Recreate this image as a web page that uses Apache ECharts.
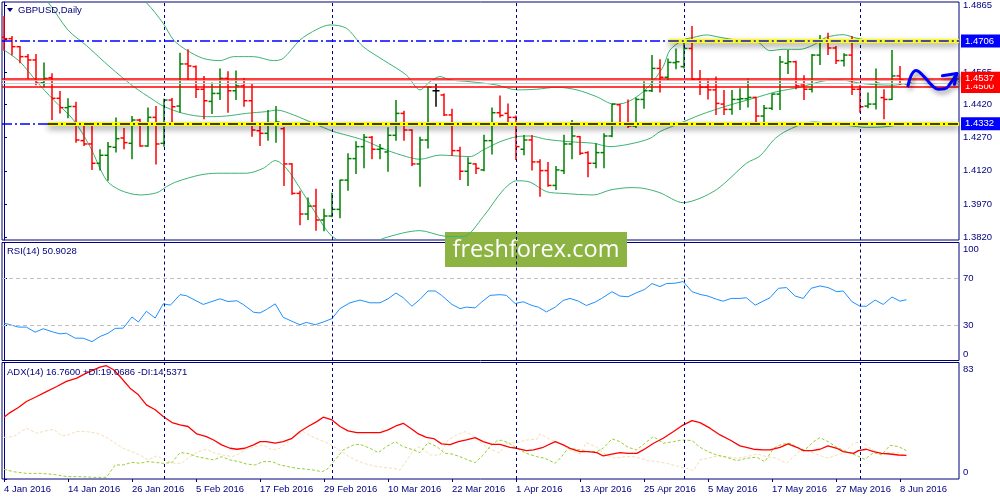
<!DOCTYPE html>
<html><head><meta charset="utf-8">
<script src="https://cdn.jsdelivr.net/npm/echarts/dist/echarts.min.js"></script>
<style>html,body{margin:0;padding:0;background:#fff}#c{width:1000px;height:500px}</style>
</head><body><div id="c"></div>
<script>
// ---------- DATA ----------
const dateLabelIdx = [0,8,16,24,32,40,48,56,64,72,80,88,96,104,112];
const dateLabels = ['4 Jan 2016','14 Jan 2016','26 Jan 2016','5 Feb 2016','17 Feb 2016','29 Feb 2016','10 Mar 2016','22 Mar 2016','1 Apr 2016','13 Apr 2016','25 Apr 2016','5 May 2016','17 May 2016','27 May 2016','8 Jun 2016'];
const monthStarts = [20,41,64,85,107];
const priceTicks = [1.3820,1.3970,1.4120,1.4270,1.4420,1.4565,1.4715,1.4865];
const rsiTicks = [0,30,70,100];
const adxTicks = [0,83];

const opens = [
1.4722,1.4716,1.4680,1.4635,1.4620,1.4517,1.4540,1.4447,1.4405,1.4410,
1.4256,1.4241,1.4154,1.4190,1.4226,1.4268,1.4244,1.4349,1.4232,1.4361,
1.4244,1.4439,1.4412,1.4602,1.4590,1.4488,1.4433,1.4469,1.4537,1.4481,
1.4503,1.4436,1.4301,1.4289,1.4337,1.4310,1.4151,1.4018,1.3925,1.3961,
1.3898,1.3916,1.3946,1.4078,1.4175,1.4229,1.4271,1.4217,1.4205,1.4280,
1.4379,1.4304,1.4151,1.4259,1.4481,1.4462,1.4372,1.4211,1.4118,1.4151,
1.4124,1.4256,1.4382,1.4379,1.4361,1.4217,1.4259,1.4160,1.4121,1.4054,
1.4121,1.4241,1.4274,1.4202,1.4154,1.4202,1.4277,1.4418,1.4331,1.4322,
1.4442,1.4481,1.4582,1.4542,1.4608,1.4590,1.4672,1.4533,1.4497,1.4485,
1.4421,1.4397,1.4442,1.4445,1.4451,1.4367,1.4402,1.4466,1.4605,1.4612,
1.4507,1.4488,1.4642,1.4703,1.4674,1.4617,1.4642,1.4488,1.4412,1.4421,
1.4450,1.4442,1.4548,1.4512];
const highs = [
1.4818,1.4728,1.4683,1.4647,1.4647,1.4608,1.4560,1.4480,1.4447,1.4432,
1.4322,1.4337,1.4217,1.4250,1.4361,1.4313,1.4367,1.4355,1.4406,1.4412,
1.4445,1.4448,1.4653,1.4668,1.4595,1.4548,1.4518,1.4581,1.4569,1.4572,
1.4539,1.4515,1.4340,1.4394,1.4412,1.4318,1.4154,1.4030,1.4000,1.4039,
1.3949,1.4021,1.4080,1.4199,1.4253,1.4286,1.4277,1.4241,1.4316,1.4439,
1.4391,1.4307,1.4274,1.4503,1.4515,1.4469,1.4400,1.4229,1.4181,1.4154,
1.4283,1.4406,1.4460,1.4424,1.4370,1.4282,1.4282,1.4172,1.4160,1.4142,
1.4283,1.4349,1.4277,1.4208,1.4244,1.4289,1.4424,1.4421,1.4442,1.4451,
1.4524,1.4642,1.4623,1.4627,1.4672,1.4713,1.4773,1.4575,1.4533,1.4545,
1.4485,1.4485,1.4492,1.4536,1.4454,1.4417,1.4469,1.4638,1.4665,1.4617,
1.4551,1.4647,1.4733,1.4743,1.4683,1.4650,1.4728,1.4507,1.4473,1.4582,
1.4488,1.4665,1.4593,1.4518];
const lows = [
1.4662,1.4641,1.4605,1.4533,1.4506,1.4497,1.4349,1.4379,1.4357,1.4247,
1.4232,1.4124,1.4121,1.4075,1.4202,1.4217,1.4172,1.4229,1.4229,1.4148,
1.4229,1.4322,1.4382,1.4527,1.4448,1.4352,1.4376,1.4439,1.4382,1.4439,
1.4409,1.4274,1.4232,1.4256,1.4247,1.4051,1.4012,1.3874,1.3898,1.3850,
1.3847,1.3910,1.3906,1.4030,1.4106,1.4131,1.4172,1.4172,1.4116,1.4256,
1.4256,1.4142,1.4048,1.4221,1.4409,1.4367,1.4187,1.4078,1.4051,1.4106,
1.4118,1.4193,1.4361,1.4322,1.4169,1.4190,1.4121,1.4003,1.4048,1.4033,
1.4106,1.4172,1.4191,1.4091,1.4131,1.4131,1.4271,1.4329,1.4313,1.4313,
1.4400,1.4476,1.4473,1.4527,1.4578,1.4581,1.4527,1.4462,1.4442,1.4372,
1.4372,1.4373,1.4394,1.4406,1.4334,1.4331,1.4394,1.4394,1.4557,1.4488,
1.4439,1.4473,1.4597,1.4642,1.4602,1.4590,1.4462,1.4382,1.4402,1.4397,
1.4352,1.4439,1.4507,1.4506];
const closes = [
1.4716,1.4680,1.4635,1.4620,1.4515,1.4537,1.4447,1.4405,1.4410,1.4259,
1.4241,1.4154,1.4190,1.4229,1.4265,1.4247,1.4349,1.4232,1.4361,1.4241,
1.4439,1.4409,1.4602,1.4593,1.4488,1.4436,1.4469,1.4537,1.4481,1.4503,
1.4436,1.4304,1.4289,1.4337,1.4340,1.4151,1.4018,1.3925,1.3961,1.3898,
1.3916,1.3946,1.4078,1.4175,1.4229,1.4271,1.4217,1.4220,1.4280,1.4379,
1.4304,1.4151,1.4259,1.4497,1.4481,1.4372,1.4211,1.4118,1.4154,1.4131,
1.4256,1.4382,1.4370,1.4361,1.4229,1.4259,1.4160,1.4121,1.4054,1.4124,
1.4241,1.4277,1.4199,1.4154,1.4202,1.4277,1.4421,1.4331,1.4322,1.4442,
1.4481,1.4582,1.4542,1.4609,1.4612,1.4672,1.4533,1.4497,1.4485,1.4424,
1.4397,1.4442,1.4445,1.4451,1.4367,1.4402,1.4466,1.4611,1.4612,1.4503,
1.4488,1.4642,1.4703,1.4674,1.4617,1.4642,1.4488,1.4409,1.4421,1.4515,
1.4442,1.4548,1.4530,1.4516];

// Bollinger band traces [barIndex, price]
const upperBand = [[16.5,1.4905],[17.8,1.4878],[19.9,1.4785],[21.2,1.4710],[22.8,1.4665],[24.9,1.4627],[27,1.4617],[28.7,1.4635],[31.2,1.4635],[33.7,1.4617],[34.9,1.4627],[37,1.4710],[39.1,1.4758],[40.75,1.4778],[42.8,1.4763],[44.9,1.4680],[47.4,1.4620],[50.3,1.4552],[52,1.4485],[53.25,1.4522],[54.5,1.4545],[55.75,1.4530],[58.25,1.4522],[61.6,1.4507],[64.1,1.4485],[66.6,1.4488],[69.1,1.4497],[71.6,1.4485],[74.1,1.4454],[76.2,1.4421],[77.4,1.4424],[79.1,1.4454],[80.75,1.4507],[82.4,1.4590],[83.25,1.4665],[84.9,1.4710],[86.2,1.4722],[87.8,1.4733],[89.5,1.4722],[91.6,1.4710],[94.1,1.4703],[95.75,1.4662],[97.4,1.4668],[99.5,1.4668],[101.2,1.4688],[102.8,1.4722],[104.9,1.4734],[106.6,1.4718],[108.7,1.4707],[112.8,1.4707]];
const middleBand = [[4,1.4920],[5.3,1.4890],[8.0,1.4755],[10.3,1.4685],[13.25,1.4588],[16.2,1.4500],[18.7,1.4439],[19.9,1.4412],[22.4,1.4379],[25.3,1.4364],[27.8,1.4367],[30.3,1.4379],[32.8,1.4387],[34.1,1.4394],[36.2,1.4372],[38.7,1.4334],[41.2,1.4297],[42.8,1.4281],[44.9,1.4259],[47.8,1.4214],[50.3,1.4184],[52,1.4172],[54.5,1.4191],[58.25,1.4184],[59.9,1.4214],[62,1.4251],[64.1,1.4274],[65.75,1.4277],[67.8,1.4262],[70.75,1.4251],[73.7,1.4244],[75.75,1.4229],[78.25,1.4241],[80.75,1.4266],[82,1.4297],[84.5,1.4334],[87,1.4372],[90.3,1.4412],[93.7,1.4447],[96.6,1.4477],[99.5,1.4497],[102,1.4522],[103.7,1.4530],[105.3,1.4527],[107,1.4515],[108.7,1.4509],[111.2,1.4506],[112.8,1.4515]];
const lowerBand = [[0,1.4665],[2,1.4612],[4.1,1.4522],[6.2,1.4439],[8.7,1.4349],[10.75,1.4229],[12.8,1.4078],[14.5,1.4033],[17,1.4011],[19.1,1.4021],[20.3,1.4048],[21.6,1.4071],[24.5,1.4101],[26.6,1.4109],[30.3,1.4109],[32.4,1.4131],[33.9,1.4166],[35.3,1.4131],[37,1.4041],[38.7,1.3943],[40.3,1.3853],[41.2,1.3820],[43.5,1.3775],[45.5,1.3780],[47.4,1.3815],[52,1.3850],[54.9,1.3826],[57.4,1.3823],[59.9,1.3913],[62.4,1.4033],[64.1,1.4075],[65.75,1.4069],[67.8,1.4026],[69.9,1.4018],[73.7,1.4011],[75.75,1.4033],[78.25,1.4044],[79.9,1.4041],[82,1.4021],[84.9,1.3976],[87,1.3996],[89.1,1.4036],[90.75,1.4086],[92.8,1.4154],[94.5,1.4187],[96.2,1.4259],[97.4,1.4292],[99.5,1.4327],[101.2,1.4340],[103.7,1.4331],[105.3,1.4325],[107.8,1.4316],[110.3,1.4319],[112.8,1.4334]];

// Horizontal levels
const resistance = 1.4706, support = 1.4332;
const resistanceFrom = 83.1, supportFrom = 5.5;
const redLevels = [1.4500, 1.4537];
const pinkLevel = 1.4530, greyLevel = 1.4517;

// Forecast wave [barIndex, price]
const waveLine = [[113.0,1.4503],[114.0,1.4572],[115.0,1.4545],[116.0,1.4505],[116.8,1.4488],[117.6,1.4490],[118.3,1.4515],[119.1,1.4558]];
const waveHead = [[117.3,1.4549],[119.1,1.4559],[118.8,1.4510]];

// RSI(14)
const rsiPts = [[0,31.7],[0.75,30.3],[1.8,28.3],[2.8,28.3],[3.9,24.0],[4.9,26.9],[6.2,24.0],[7,22.6],[7.8,23.1],[8.9,18.9],[9.9,18.9],[11,16.0],[12,20.3],[13,23.1],[13.9,27.2],[14.9,27.4],[16,36.9],[16.8,32.6],[17.8,41.7],[18.9,36.0],[19.9,48.0],[20.8,46.9],[22,55.8],[22.8,54.9],[24.9,47.5],[27,52.3],[28,50.0],[29.1,50.6],[29.9,47.5],[31.2,40.9],[32,40.3],[32.8,43.2],[33.9,48.0],[34.9,36.6],[36.2,32.6],[37,30.3],[37.8,32.3],[38.9,30.3],[39.9,32.6],[41,35.5],[42,44.0],[43.25,48.9],[44.5,51.2],[45.75,48.9],[47,48.9],[48,52.3],[49,57.2],[49.9,53.2],[51,46.0],[52,51.8],[53,58.9],[53.9,58.9],[54.7,55.2],[56,47.5],[57,44.0],[57.8,45.2],[58.9,44.6],[59.7,49.5],[60.75,55.2],[62,55.8],[62.8,55.2],[63.9,48.3],[64.9,49.8],[66,46.6],[66.8,45.2],[67.8,41.2],[68.9,45.2],[69.9,50.9],[70.75,52.6],[71.8,50.3],[72.8,46.6],[73.9,49.5],[74.7,52.6],[76,58.3],[77,54.6],[78,54.0],[79.1,57.5],[80.1,60.3],[81,65.2],[82,62.6],[82.8,65.2],[83.9,65.5],[84.9,66.9],[86,58.3],[87,56.0],[88,54.6],[89.1,51.8],[89.9,50.3],[90.9,52.6],[92,52.6],[92.8,53.2],[93.9,46.9],[94.9,50.3],[95.75,53.2],[96.8,61.2],[97.8,61.8],[98.9,54.6],[99.9,52.6],[100.9,61.2],[102,63.2],[103,61.8],[104.1,58.3],[104.9,58.9],[106,49.8],[107,46.0],[107.8,46.0],[108.9,51.2],[109.9,47.5],[111,53.8],[112,50.3],[112.8,51.5]];
const rsiLevels = [30,70];

// ADX(14), +DI, -DI
const adxPts = [[0,44.0],[0.75,47.3],[1.8,50.9],[2.8,55.2],[4.1,58.8],[5.3,62.3],[6.6,65.9],[7.8,69.5],[9.1,71.9],[10.1,74.9],[11.2,77.8],[12,79.7],[12.8,80.7],[13.7,77.8],[14.5,73.0],[15.75,64.7],[16.8,60.0],[17.8,52.8],[18.9,49.3],[19.9,44.5],[21,40.2],[22,38.5],[23,37.4],[24.1,32.1],[25.3,30.2],[26.2,27.8],[27.2,24.3],[28.25,21.9],[29.1,21.2],[30.1,21.9],[31.2,24.3],[32,26.6],[32.8,26.6],[33.9,25.5],[34.9,26.6],[36,29.0],[37,33.8],[38,37.4],[39.1,40.9],[39.9,44.0],[41,42.1],[42,37.4],[43,34.3],[44.1,33.1],[46.2,33.1],[47,33.1],[48,35.0],[49.1,38.1],[49.9,39.7],[51,35.5],[51.8,32.1],[52.8,29.7],[53.7,28.8],[54.7,25.0],[55.75,24.5],[56.8,26.6],[57.8,27.8],[58.9,29.5],[59.9,26.6],[61,24.7],[62,24.6],[63.25,22.6],[64.1,21.9],[65.3,20.2],[66.2,20.7],[67.4,22.6],[68.9,26.6],[69.9,24.3],[70.75,21.9],[72,19.5],[73,19.5],[74.1,18.8],[74.9,16.4],[76,17.8],[77,18.8],[78,18.3],[79.1,18.3],[79.9,20.7],[81.2,25.5],[82.4,29.0],[83.7,33.8],[84.7,37.8],[86,41.6],[87,40.2],[88.25,36.2],[89.5,31.4],[90.75,27.8],[92,23.6],[93.7,21.2],[94.9,20.7],[95.75,20.7],[97,22.6],[98,25.0],[99.1,22.6],[99.9,20.2],[101,20.2],[102,21.2],[103,23.6],[104.1,21.9],[104.9,19.5],[106.2,18.3],[106.8,20.2],[107.8,21.2],[108.7,19.5],[109.7,18.3],[110.75,17.8],[111.8,17.1],[112.8,16.8]];
const pdiPts = [[0,6.9],[1.2,5.2],[2.8,4.0],[4.5,4.0],[6.2,3.3],[7.8,1.7],[9.5,1.7],[11.2,1.2],[12.8,1.2],[13.9,10.0],[14.9,10.0],[16,11.9],[17,11.2],[18,12.4],[19.1,11.7],[19.9,11.2],[21,11.7],[22,18.8],[23,18.3],[24.1,15.9],[25.1,14.8],[26.2,13.6],[27.2,15.9],[28.25,13.6],[29.3,12.4],[30.3,10.7],[31.4,10.0],[32.4,12.4],[33.5,12.4],[34.5,10.0],[35.5,8.8],[36.6,7.6],[37.6,7.1],[38.7,6.4],[39.7,5.2],[40.3,6.4],[41.2,12.4],[42.4,20.7],[43.7,24.3],[44.5,24.7],[45.75,21.9],[46.8,18.8],[47.8,23.1],[48.9,26.6],[49.9,23.1],[51.2,20.7],[52,18.8],[53,25.9],[54.1,23.1],[55.1,18.3],[56,17.8],[57,15.9],[58,13.6],[58.9,11.7],[59.9,17.1],[60.75,23.1],[61.6,27.1],[62.2,27.6],[63,25.9],[64.1,21.9],[65.3,18.3],[66.6,15.9],[67.6,14.8],[68.9,11.2],[69.7,15.9],[70.5,21.9],[72,20.7],[73,19.5],[74.1,19.5],[74.9,21.9],[76,28.6],[77,26.6],[78,22.6],[79.1,20.7],[80.1,25.5],[81.2,30.2],[82.4,25.5],[83.7,26.6],[84.7,27.8],[86,27.4],[87,22.6],[88,19.5],[89.1,17.1],[90.3,15.5],[91.6,13.1],[92.8,14.8],[94.1,15.5],[95.1,12.4],[96.2,21.9],[97.2,24.7],[98.25,25.5],[99.1,22.6],[100.1,20.7],[101.2,26.6],[102,29.5],[103,26.6],[104.1,22.6],[105.3,19.5],[106.6,16.7],[107.6,14.0],[108.7,18.8],[109.7,17.1],[110.75,24.0],[111.8,23.1],[112.8,20.2]];
const mdiPts = [[0,29.7],[1.2,30.2],[2.8,36.2],[4.1,32.6],[4.9,33.8],[6.2,35.5],[7.2,30.7],[8,31.4],[9.1,33.8],[10.3,33.8],[11.6,32.6],[12.8,29.7],[13.9,25.5],[14.9,21.9],[16,19.5],[17,17.1],[18,13.6],[19.1,16.4],[20.1,13.6],[21.2,11.2],[22.2,11.2],[23.25,15.9],[24.3,19.5],[25.3,21.2],[26.4,18.3],[27.4,17.1],[28.5,15.9],[29.3,17.8],[30.3,21.2],[31.4,23.1],[32.4,24.3],[33.5,20.7],[34.5,21.9],[35.5,26.6],[36.6,31.4],[37.4,33.8],[38.5,30.2],[39.5,27.8],[40.5,25.5],[41.6,21.9],[42.8,17.1],[43.9,13.6],[44.9,11.2],[46.2,9.3],[47.4,8.3],[48.7,7.6],[49.5,6.4],[50.1,11.2],[51.2,20.7],[52,23.1],[53.25,17.1],[54.5,17.1],[55.5,27.8],[56.6,31.4],[57.6,33.8],[58.7,30.7],[59.9,24.3],[61,20.7],[62,18.5],[62.8,25.5],[64.1,25.9],[65.3,27.8],[66.6,28.3],[67,32.1],[68.25,28.3],[69.5,25.5],[70.75,20.7],[72,17.8],[72.8,25.9],[74.1,22.6],[75.3,17.1],[76.4,14.8],[77.6,15.9],[78.7,15.9],[79.5,14.8],[80.5,13.1],[81.6,12.4],[82.8,11.2],[84.1,9.3],[85.3,7.6],[86.2,6.0],[87,13.6],[88,14.8],[89.1,16.4],[90.3,15.9],[91.6,14.8],[92.8,15.9],[94.1,17.8],[95.3,15.9],[96.6,14.8],[97.8,11.2],[98.7,15.9],[99.7,20.7],[100.75,19.5],[101.8,17.1],[103,14.8],[104.1,17.1],[104.9,18.3],[106.2,25.5],[107.2,26.6],[108.25,21.9],[109.5,18.3],[110.75,18.8],[111.8,18.8],[112.8,14.8]];

const titleMain = 'GBPUSD,Daily';
const titleRsi = 'RSI(14) 50.9028';
const titleAdx = 'ADX(14) 16.7600 +DI:19.0686 -DI:14.5371';
const watermark = 'freshforex.com';

// ---------- CHART ----------
const NAVY = '#00007f';
const FONT = "'Liberation Sans', Arial, sans-serif";
const FS = 9.5;
const XMIN = -0.25, XMAX = 119.375;
const PMIN = 1.38078, PMAX = 1.48815;

const ohlcData = opens.map((o, i) => [i, o, highs[i], lows[i], closes[i]]);

function renderOHLC(params, api) {
  const i = api.value(0), o = api.value(1), h = api.value(2), l = api.value(3), c = api.value(4);
  const top = api.coord([i, h]), bot = api.coord([i, l]);
  const yo = api.coord([i, o])[1], yc = api.coord([i, c])[1];
  const x = top[0];
  const col = c > o ? '#008000' : (c < o ? '#ff0000' : '#000000');
  const st = () => ({stroke: col, lineWidth: 1.5});
  return {type: 'group', children: [
    {type: 'line', shape: {x1: x, y1: top[1], x2: x, y2: bot[1]}, style: st()},
    {type: 'line', shape: {x1: x - 3.5, y1: yo, x2: x, y2: yo}, style: st()},
    {type: 'line', shape: {x1: x, y1: yc, x2: x + 3.5, y2: yc}, style: st()}
  ]};
}

const gridBase = {left: 2, right: 41, show: true, borderColor: NAVY, borderWidth: 1, backgroundColor: 'transparent'};
const txt = {color: NAVY, fontSize: FS, fontFamily: FONT};

function xAx(k) {
  return {
    gridIndex: k, type: 'value', min: XMIN, max: XMAX, show: k === 2,
    axisLine: {show: false}, splitLine: {show: false},
    axisTick: {show: true, customValues: dateLabelIdx, length: 3, lineStyle: {color: NAVY}},
    axisLabel: Object.assign({customValues: dateLabelIdx, align: 'left', margin: 5,
      formatter: v => dateLabels[dateLabelIdx.indexOf(Math.round(v))] || ''}, txt)
  };
}
function yAx(k, min, max, ticks, fmt, rich) {
  return {
    gridIndex: k, type: 'value', position: 'right', min: min, max: max,
    splitLine: {show: false},
    axisLine: {show: true, lineStyle: {color: NAVY}},
    axisTick: {show: true, customValues: ticks, length: 3, lineStyle: {color: NAVY}},
    axisLabel: Object.assign({customValues: ticks, margin: 4, formatter: fmt, rich: rich || {}}, txt)
  };
}
const edgeRich = {
  dn: {padding: [13, 0, 0, 0], color: NAVY, fontSize: FS, fontFamily: FONT},
  up: {padding: [0, 0, 13, 0], color: NAVY, fontSize: FS, fontFamily: FONT}
};

const sepLine = {
  silent: true, symbol: ['none', 'none'], label: {show: false},
  lineStyle: {color: NAVY, width: 1, type: [3, 3]},
  data: monthStarts.map(m => ({xAxis: m}))
};
const dashDot = [10, 3, 2, 3];
function boxLabel(bg) {
  return {show: true, position: 'end', distance: 2, color: '#ffffff', backgroundColor: bg,
    padding: [2, 6, 1, 4], fontSize: FS, fontFamily: FONT, formatter: p => Number(p.value).toFixed(4)};
}

const option = {
  animation: false,
  backgroundColor: '#ffffff',
  title: [
    {text: titleMain, left: 18, top: 5, padding: 0, textStyle: Object.assign({fontWeight: 'normal'}, txt)},
    {text: titleRsi, left: 7, top: 246.5, padding: 0, textStyle: Object.assign({fontWeight: 'normal'}, txt)},
    {text: titleAdx, left: 7, top: 367, padding: 0, textStyle: Object.assign({fontWeight: 'normal'}, txt)}
  ],
  grid: [
    Object.assign({top: 2, height: 238}, gridBase),
    Object.assign({top: 242.5, height: 118}, gridBase),
    Object.assign({top: 362.5, height: 116.5}, gridBase)
  ],
  xAxis: [xAx(0), xAx(1), xAx(2)],
  yAxis: [
    yAx(0, PMIN, PMAX, priceTicks, v => Number(v).toFixed(4)),
    yAx(1, 0, 100, rsiTicks, v => v === 100 ? '{dn|100}' : (v === 0 ? '{up|0}' : String(v)), edgeRich),
    yAx(2, 0, 83, adxTicks, v => v === 83 ? '{dn|83}' : (v === 0 ? '{up|0}' : String(v)), edgeRich)
  ],
  graphic: [
    {type: 'polygon', shape: {points: [[7, 8], [13, 8], [10, 12]]}, style: {fill: NAVY}, z: 10},
    {type: 'group', z: 100, children: [
      {type: 'rect', shape: {x: 445, y: 232, width: 182, height: 35}, style: {fill: '#8db443'}},
      {type: 'text', x: 536, y: 250, style: {text: watermark, fill: '#ffffff', font: '23.5px "Open Sans", "Noto Sans", sans-serif', align: 'center', verticalAlign: 'middle'}}
    ]}
  ],
  series: [
    {type: 'line', xAxisIndex: 0, yAxisIndex: 0, data: [], z: 1, markLine: sepLine},
    {type: 'line', xAxisIndex: 0, yAxisIndex: 0, data: upperBand, smooth: 0.3, symbol: 'none', z: 2, silent: true, lineStyle: {color: '#3cb371', width: 1}},
    {type: 'line', xAxisIndex: 0, yAxisIndex: 0, data: middleBand, smooth: 0.3, symbol: 'none', z: 2, silent: true, lineStyle: {color: '#3cb371', width: 1}},
    {type: 'line', xAxisIndex: 0, yAxisIndex: 0, data: lowerBand, smooth: 0.3, symbol: 'none', z: 2, silent: true, lineStyle: {color: '#3cb371', width: 1}},
    {type: 'custom', xAxisIndex: 0, yAxisIndex: 0, data: ohlcData, renderItem: renderOHLC, clip: true, z: 3, silent: true, encode: {x: 0, y: [1, 2, 3, 4]}},
    {type: 'line', xAxisIndex: 0, yAxisIndex: 0, data: [], z: 4, markLine: {
      silent: true, symbol: ['none', 'none'], precision: 4,
      data: [
        {yAxis: pinkLevel, lineStyle: {color: '#f2a8a8', width: 1, type: 'solid'}, label: {show: false}},
        {yAxis: greyLevel, lineStyle: {color: '#cccccc', width: 1, type: 'solid'}, label: {show: false}},
        {yAxis: redLevels[0], lineStyle: {color: '#ff0000', width: 1.5, type: 'solid'}, label: boxLabel('#ff0000')},
        {yAxis: redLevels[1], lineStyle: {color: '#ff0000', width: 1.5, type: 'solid'}, label: boxLabel('#ff0000')},
        {yAxis: resistance, lineStyle: {color: '#0000ff', width: 1.5, type: dashDot}, label: boxLabel('#0000ff')},
        {yAxis: support, lineStyle: {color: '#0000ff', width: 1.5, type: dashDot}, label: boxLabel('#0000ff')}
      ]}},
    {type: 'line', xAxisIndex: 0, yAxisIndex: 0, data: [], z: 5, markLine: {
      silent: true, symbol: ['none', 'none'], label: {show: false}, precision: 4,
      lineStyle: {color: '#ffff00', width: 4, type: 'solid', shadowColor: 'rgba(0,0,0,0.45)', shadowBlur: 6, shadowOffsetY: 3},
      data: [
        [{coord: [supportFrom, support]}, {coord: [XMAX, support]}],
        [{coord: [resistanceFrom, resistance]}, {coord: [XMAX, resistance]}]
      ]}},
    {type: 'line', xAxisIndex: 0, yAxisIndex: 0, data: [], z: 6, markLine: {
      silent: true, symbol: ['none', 'none'], label: {show: false}, precision: 4,
      data: [
        [{coord: [supportFrom, support], lineStyle: {color: '#000000', width: 1.5, type: dashDot}}, {coord: [XMAX, support]}],
        [{coord: [resistanceFrom, resistance], lineStyle: {color: '#1010c0', width: 1.5, type: dashDot}}, {coord: [XMAX, resistance]}]
      ]}},
    {type: 'line', xAxisIndex: 0, yAxisIndex: 0, data: waveLine, smooth: 0.5, symbol: 'none', z: 7, silent: true,
      lineStyle: {color: '#0000ff', width: 3, cap: 'round', join: 'round', shadowColor: 'rgba(0,0,0,0.45)', shadowBlur: 5, shadowOffsetX: 2, shadowOffsetY: 3}},
    {type: 'line', xAxisIndex: 0, yAxisIndex: 0, data: waveHead, symbol: 'none', z: 7, silent: true,
      lineStyle: {color: '#0000ff', width: 3, cap: 'round', join: 'round', shadowColor: 'rgba(0,0,0,0.45)', shadowBlur: 5, shadowOffsetX: 2, shadowOffsetY: 3}},
    {type: 'line', xAxisIndex: 1, yAxisIndex: 1, data: rsiPts, symbol: 'none', z: 3, silent: true,
      lineStyle: {color: '#1e90ff', width: 1},
      markLine: {silent: true, symbol: ['none', 'none'], label: {show: false},
        data: rsiLevels.map(v => ({yAxis: v, lineStyle: {color: '#c0c0c0', width: 1, type: [4, 3]}}))
          .concat(monthStarts.map(m => ({xAxis: m, lineStyle: {color: NAVY, width: 1, type: [3, 3]}})))}},
    {type: 'line', xAxisIndex: 2, yAxisIndex: 2, data: mdiPts, symbol: 'none', z: 2, silent: true,
      lineStyle: {color: '#f5deb3', width: 1, type: [3, 2]}},
    {type: 'line', xAxisIndex: 2, yAxisIndex: 2, data: pdiPts, symbol: 'none', z: 2, silent: true,
      lineStyle: {color: '#9acd32', width: 1, type: [3, 2]}},
    {type: 'line', xAxisIndex: 2, yAxisIndex: 2, data: adxPts, symbol: 'none', z: 3, silent: true,
      lineStyle: {color: '#ff0000', width: 1.3}, markLine: sepLine}
  ]
};

const chart = echarts.init(document.getElementById('c'), null, {renderer: 'canvas'});
chart.setOption(option);
</script></body></html>
